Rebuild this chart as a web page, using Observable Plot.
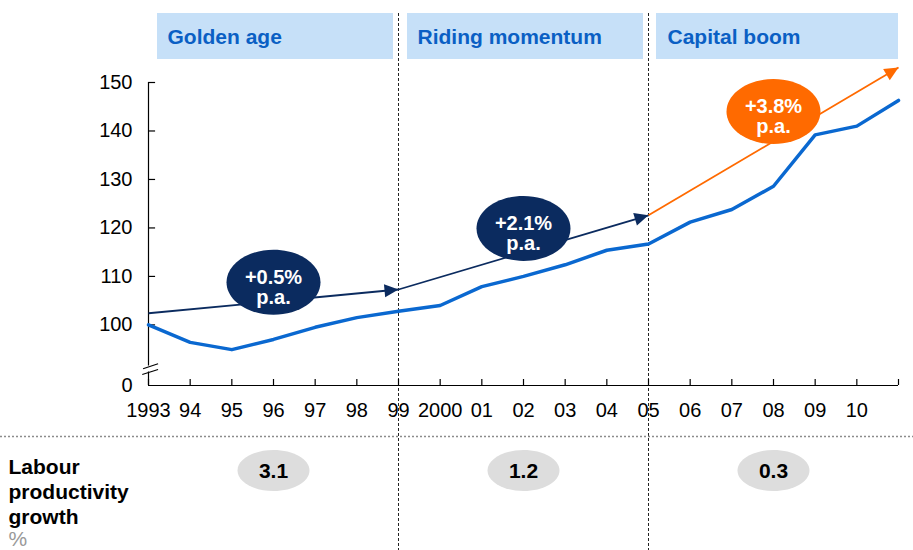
<!DOCTYPE html>
<html>
<head>
<meta charset="utf-8">
<script src="https://cdn.jsdelivr.net/npm/d3@7"></script>
<script src="https://cdn.jsdelivr.net/npm/@observablehq/plot@0.6"></script>
<style>
  html, body { margin: 0; padding: 0; background: #ffffff; }
  #chart { width: 913px; height: 550px; }
</style>
</head>
<body>
<div id="chart"></div>
<script>
// ---------- data ----------
const years = [1993,1994,1995,1996,1997,1998,1999,2000,2001,2002,2003,2004,2005,2006,2007,2008,2009,2010,2011];
const productivity = [100,96.4,94.9,97.0,99.5,101.5,102.8,104.0,107.9,110.0,112.4,115.4,116.7,121.2,123.8,128.6,139.2,141.0,146.3];
const tickYears = [1993,1994,1995,1996,1997,1998,1999,2000,2001,2002,2003,2004,2005,2006,2007,2008,2009,2010];
const tickLabels = ["1993","94","95","96","97","98","99","2000","01","02","03","04","05","06","07","08","09","10"];
const tickMarkYears = [1993,1994,1995,1996,1997,1998,1999,2000,2001,2002,2003,2004,2005,2006,2007,2008,2009,2010,2011];
// broken axis: the baseline (labelled "0") sits just below 100
const axisBase = 87.5;
const yTicks = [axisBase,100,110,120,130,140,150];
const yTickLabels = ["0","100","110","120","130","140","150"];

const periods = ["Golden age","Riding momentum","Capital boom"];
const periodStart = [1993,1999,2005];
const periodEnd = [1999,2005,2011];
const periodMid = [1996,2002,2008];

const trendStart = [102.4,107.3,122.6];
const trendEnd = [107.3,122.6,153.1];
const trendColors = ["#0b2b5f","#0b2b5f","#ff6a00"];
const trendLabels = ["+0.5%\np.a.","+2.1%\np.a.","+3.8%\np.a."];
const trendLabelY = [108.8,119.9,144.0];

const laborGrowth = ["3.1","1.2","0.3"];

// ---------- scales (shared with Plot) ----------
const xDomain = [1993, 2011], xRange = [148, 898];
const yDomain = [axisBase, 150], yRange = [385, 82];
const sx = d3.scaleLinear(xDomain, xRange);
const sy = d3.scaleLinear(yDomain, yRange);
const yPerPx = (yDomain[1] - yDomain[0]) / (yRange[0] - yRange[1]);

// custom symbols
function ellipseSymbol(rx, ry) {
  const k = 0.5523;
  return {draw(ctx) {
    ctx.moveTo(rx, 0);
    ctx.bezierCurveTo(rx, ry*k, rx*k, ry, 0, ry);
    ctx.bezierCurveTo(-rx*k, ry, -rx, ry*k, -rx, 0);
    ctx.bezierCurveTo(-rx, -ry*k, -rx*k, -ry, 0, -ry);
    ctx.bezierCurveTo(rx*k, -ry, rx, -ry*k, rx, 0);
    ctx.closePath();
  }};
}
function arrowSymbol(angle, L, W) {
  const c = Math.cos(angle), s = Math.sin(angle);
  return {draw(ctx) {
    ctx.moveTo(0, 0);
    ctx.lineTo(-L*c - W*s, -L*s + W*c);
    ctx.lineTo(-L*c + W*s, -L*s - W*c);
    ctx.closePath();
  }};
}

const arrowHeads = trendStart.map((_, i) => {
  const ang = Math.atan2(sy(trendEnd[i]) - sy(trendStart[i]), sx(periodEnd[i]) - sx(periodStart[i]));
  return Plot.dot([i], {x: [periodEnd[i]], y: [trendEnd[i]], symbol: arrowSymbol(ang, 14, 6.5), r: 5, fill: trendColors[i], stroke: null});
});

// axis break geometry (px offsets above the baseline converted to data units)
const brk = v => axisBase + v * yPerPx;

const font = "'Liberation Sans', Arial, Helvetica, sans-serif";

const chart = Plot.plot({
  width: 913,
  height: 550,
  marginLeft: 148,
  marginRight: 15,
  marginTop: 82,
  marginBottom: 165,
  style: {fontFamily: font, fontSize: "20px", color: "#000", background: "#fff", overflow: "visible"},
  x: {domain: xDomain, range: xRange, ticks: tickYears, tickFormat: d => tickLabels[tickYears.indexOf(d)], tickSize: 0, tickPadding: 17, label: null},
  y: {domain: yDomain, range: yRange, ticks: yTicks, tickFormat: d => yTickLabels[yTicks.indexOf(d)], tickSize: 0, tickPadding: 16, label: null},
  marks: [
    // header boxes
    Plot.barX(periods, {filter: (d, i) => i < 2, x1: periodStart, x2: periodEnd, fill: "#c6e0f8", insetLeft: 9, insetRight: 5, insetTop: -69, insetBottom: 326}),
    Plot.barX(periods, {filter: (d, i) => i === 2, x1: periodStart, x2: periodEnd, fill: "#c6e0f8", insetLeft: 8, insetRight: 0, insetTop: -69, insetBottom: 326}),
    Plot.text(periods, {x: periodStart, frameAnchor: "top", lineAnchor: "middle", textAnchor: "start", dx: 19, dy: -45, fill: "#0a5fc4", fontWeight: "bold", fontSize: 21}),
    // period separators
    Plot.ruleX([1999, 2005], {stroke: "#222", strokeWidth: 1, strokeDasharray: "3,2", insetTop: -69, insetBottom: -165}),
    // bottom dotted separator
    Plot.ruleY([axisBase], {dy: 51, insetLeft: -148, insetRight: -15, stroke: "#8c8c8c", strokeWidth: 1.5, strokeDasharray: "2,2"}),
    // axes lines & ticks
    Plot.ruleY([axisBase], {stroke: "#000", strokeWidth: 1.2}),
    Plot.ruleX([1993], {y1: 150, y2: brk(19.5), stroke: "#000", strokeWidth: 1.2}),
    Plot.ruleX([1993], {y1: brk(13.5), y2: axisBase, stroke: "#000", strokeWidth: 1.2}),
    Plot.link([0, 1], {x1: [1992.87, 1992.85], y1: [brk(16.7), brk(11)], x2: [1993.23, 1993.23], y2: [brk(21.7), brk(16)], stroke: "#000", strokeWidth: 1.2}),
    Plot.ruleX(tickMarkYears, {y1: axisBase, y2: brk(6), stroke: "#000", strokeWidth: 1.2}),
    Plot.ruleY(yTicks.slice(1), {x1: 1993, x2: 1993.17, stroke: "#000", strokeWidth: 1.2}),
    // productivity line
    Plot.line(years, {x: years, y: productivity, stroke: "#0a68d0", strokeWidth: 3.5, strokeLinejoin: "round"}),
    // trend arrows
    Plot.link(trendLabels, {x1: periodStart, y1: trendStart, x2: periodEnd, y2: trendEnd, stroke: trendColors, strokeWidth: 1.8}),
    ...arrowHeads,
    // trend bubbles
    Plot.dot(trendLabels, {x: periodMid, y: trendLabelY, symbol: ellipseSymbol(47, 32.5), r: 10, fill: trendColors, stroke: null}),
    Plot.text(trendLabels, {x: periodMid, y: trendLabelY, fill: "#fff", fontWeight: "bold", fontSize: 20, lineHeight: 1.0, dy: 5}),
    // labour productivity row
    Plot.text(["Labour\nproductivity\ngrowth"], {frameAnchor: "bottom-left", dx: -140, dy: 71, lineAnchor: "top", textAnchor: "start", fontWeight: "bold", fontSize: 21, lineHeight: 1.19, fill: "#000"}),
    Plot.text(["%"], {frameAnchor: "bottom-left", dx: -140, dy: 146, lineAnchor: "top", textAnchor: "start", fontSize: 21, fill: "#999"}),
    Plot.dot(laborGrowth, {x: periodMid, frameAnchor: "bottom", dy: 85, symbol: ellipseSymbol(36, 20.5), r: 10, fill: "#dddddd", stroke: null}),
    Plot.text(laborGrowth, {x: periodMid, frameAnchor: "bottom", lineAnchor: "middle", textAnchor: "middle", dy: 86, fontWeight: "bold", fontSize: 21, fill: "#000"})
  ]
});
document.getElementById("chart").appendChild(chart);
</script>
</body>
</html>
